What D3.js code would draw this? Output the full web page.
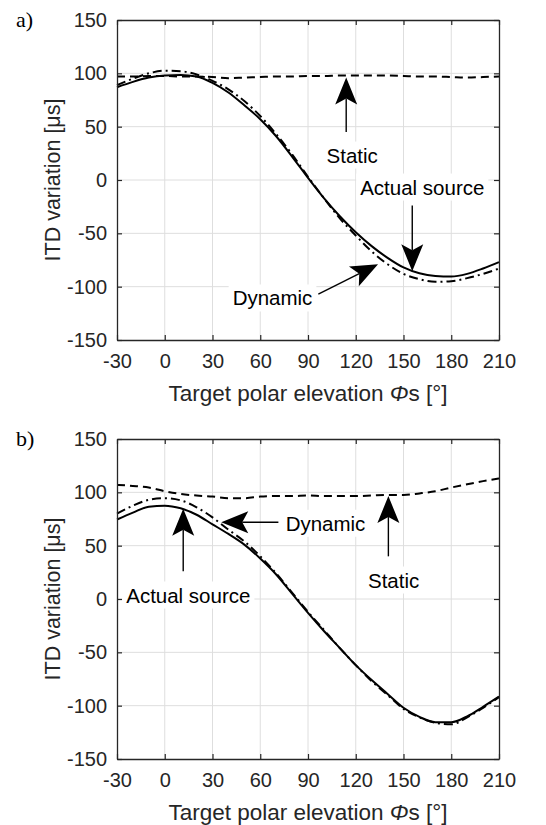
<!DOCTYPE html>
<html>
<head>
<meta charset="utf-8">
<script src="https://cdn.jsdelivr.net/npm/d3@7"></script>
<style>
  body { margin: 0; background: #fff; }
  svg text { font-family: "Liberation Sans", Arial, sans-serif; }
</style>
</head>
<body>
<svg width="546" height="825"></svg>
<script>
const svg = d3.select("svg");

// ===== DATA =====
const elevation = [-30, -20, -10, 0, 10, 20, 30, 40, 50, 60, 70, 80, 90,
                   100, 110, 120, 130, 140, 150, 160, 170, 180, 190, 200, 210];

// panel a)
const actualA  = [87, 92, 96, 98, 98.5, 97, 91, 82, 70, 57, 41, 22, 2,
                  -17, -34, -49, -62, -73, -82, -87.5, -90, -90.5, -88, -83, -77];
const dynamicA = [89, 95, 100, 102.5, 102, 99, 93, 85, 74, 60, 43, 24, 3,
                  -17, -36, -52, -67, -79, -88, -93, -95.5, -95, -92, -88, -83];
const staticA  = [97, 97, 97.5, 97.5, 97, 97, 96.5, 95.5, 96, 96.5, 97, 97, 97.5,
                  97.5, 98, 98, 98, 98, 97.5, 97, 97, 96.5, 96, 96.5, 97];

// panel b)
const actualB  = [74.5, 81, 86.5, 87.5, 85, 79, 70, 61, 51, 38, 23, 5, -13,
                  -30, -46, -62, -76, -89, -102, -110.5, -115.5, -115.5, -110, -101, -91.5];
const dynamicB = [80, 87.5, 93, 94.5, 92.5, 86, 76.5, 65, 54, 40, 24, 6, -12,
                  -29, -46, -62, -77, -90, -103, -111, -116, -117.5, -111, -102, -92];
const staticB  = [107, 106, 104.5, 101, 98.5, 97, 96, 94.5, 94.5, 96, 96.5, 96.5, 97,
                  96.5, 96.5, 96.5, 97, 97.5, 97.5, 99, 101, 104.5, 107.5, 110.5, 113];

const xTicks = [-30, 0, 30, 60, 90, 120, 150, 180, 210];
const yTicks = [-150, -100, -50, 0, 50, 100, 150];

// annotations in data coordinates: text centre, arrow tail, arrow tip
const notesA = [
  { label: "Static",        text: [117.8, 23.4],  from: [114, 45],     to: [114, 96] },
  { label: "Actual source", text: [161.8, -6.6],  from: [155.5, -24],  to: [155.5, -85.5] },
  { label: "Dynamic",       text: [67.7, -110.6], from: [96.5, -107],  to: [134, -79] }
];
const notesB = [
  { label: "Dynamic",       text: [101, 71],      from: [71.4, 72],    to: [35.5, 72] },
  { label: "Static",        text: [143.8, 17.8],  from: [140.5, 40],   to: [140.5, 96.5] },
  { label: "Actual source", text: [14.8, 3.75],   from: [11.6, 26],    to: [11.6, 84.5] }
];

const left = 117, right = 499, plotH = 320;

function drawPanel(top, tag, actual, dynamic, stat, notes) {
  const x = d3.scaleLinear().domain([-30, 210]).range([left, right]);
  const y = d3.scaleLinear().domain([-150, 150]).range([top + plotH, top]);
  const g = svg.append("g");

  // grid
  g.selectAll("line.vg").data(xTicks.slice(1, -1)).enter().append("line")
    .attr("x1", d => x(d)).attr("x2", d => x(d))
    .attr("y1", top).attr("y2", top + plotH)
    .attr("stroke", "#dedede").attr("stroke-width", 1);
  g.selectAll("line.hg").data(yTicks.slice(1, -1)).enter().append("line")
    .attr("y1", d => y(d)).attr("y2", d => y(d))
    .attr("x1", left).attr("x2", right)
    .attr("stroke", "#dedede").attr("stroke-width", 1);

  // curves
  const line = d3.line().x((d, i) => x(elevation[i])).y(d => y(d)).curve(d3.curveMonotoneX);
  g.append("path").attr("d", line(stat)).attr("fill", "none")
    .attr("stroke", "#000").attr("stroke-width", 2).attr("stroke-dasharray", "8,5");
  g.append("path").attr("d", line(dynamic)).attr("fill", "none")
    .attr("stroke", "#000").attr("stroke-width", 2).attr("stroke-dasharray", "9,4,2,4");
  g.append("path").attr("d", line(actual)).attr("fill", "none")
    .attr("stroke", "#000").attr("stroke-width", 2);

  // axes (box with inward ticks on all sides)
  const tk = -5;
  const fmt = d => String(d);
  const axB = d3.axisBottom(x).tickValues(xTicks).tickFormat(fmt).tickSizeInner(tk).tickSizeOuter(0).tickPadding(10);
  const axT = d3.axisTop(x).tickValues(xTicks).tickSizeInner(tk).tickSizeOuter(0).tickFormat("");
  const axL = d3.axisLeft(y).tickValues(yTicks).tickFormat(fmt).tickSizeInner(tk).tickSizeOuter(0).tickPadding(10);
  const axR = d3.axisRight(y).tickValues(yTicks).tickSizeInner(tk).tickSizeOuter(0).tickFormat("");
  const ab = g.append("g").attr("transform", `translate(0,${top + plotH})`).call(axB);
  const at = g.append("g").attr("transform", `translate(0,${top})`).call(axT);
  const al = g.append("g").attr("transform", `translate(${left},0)`).call(axL);
  const ar = g.append("g").attr("transform", `translate(${right},0)`).call(axR);
  [ab, at, al, ar].forEach(a => {
    a.select(".domain").attr("stroke", "#262626").attr("stroke-width", 1.3);
    a.selectAll(".tick line").attr("stroke", "#262626").attr("stroke-width", 1.2);
    a.selectAll(".tick text").attr("fill", "#262626").style("font-size", "20px")
      .style("font-family", "'Liberation Sans', Arial, sans-serif");
  });
  ab.selectAll(".tick text").attr("dy", "0.9em");

  // axis labels
  const xl = g.append("text").attr("x", (left + right) / 2).attr("y", top + plotH + 61)
    .attr("text-anchor", "middle").attr("fill", "#262626").style("font-size", "22.5px");
  xl.append("tspan").text("Target polar elevation ");
  xl.append("tspan").style("font-style", "italic").text("Φ");
  xl.append("tspan").text("s [°]");
  g.append("text")
    .attr("transform", `translate(60,${top + plotH / 2}) rotate(-90)`)
    .attr("text-anchor", "middle").attr("fill", "#262626").style("font-size", "21.5px")
    .text("ITD variation [μs]");

  // panel tag
  g.append("text").attr("x", 16).attr("y", top + 7)
    .style("font-family", "'Liberation Serif', 'DejaVu Serif', serif").style("font-size", "22px")
    .text(tag);

  // annotations
  notes.forEach(n => {
    const t = g.append("text").attr("x", x(n.text[0])).attr("y", y(n.text[1]))
      .attr("text-anchor", "middle").attr("dominant-baseline", "central")
      .style("font-size", "20.5px").text(n.label);
    const bb = t.node().getBBox();
    g.insert("rect", function() { return t.node(); })
      .attr("x", bb.x - 4).attr("y", bb.y - 2).attr("width", bb.width + 8).attr("height", bb.height + 4)
      .attr("fill", "#fff");
    const x0 = x(n.from[0]), y0 = y(n.from[1]), x1 = x(n.to[0]), y1 = y(n.to[1]);
    const ang = Math.atan2(y1 - y0, x1 - x0);
    const L = 27, W = 11, N = 21;
    const ux = Math.cos(ang), uy = Math.sin(ang), px = -uy, py = ux;
    g.append("line").attr("x1", x0).attr("y1", y0)
      .attr("x2", x1 - ux * N).attr("y2", y1 - uy * N)
      .attr("stroke", "#000").attr("stroke-width", 1.4);
    const pts = [
      [x1, y1],
      [x1 - ux * L + px * W, y1 - uy * L + py * W],
      [x1 - ux * N, y1 - uy * N],
      [x1 - ux * L - px * W, y1 - uy * L - py * W]
    ];
    g.append("polygon").attr("points", pts.map(p => p.join(",")).join(" ")).attr("fill", "#000");
  });
}

drawPanel(20, "a)", actualA, dynamicA, staticA, notesA);
drawPanel(439, "b)", actualB, dynamicB, staticB, notesB);
</script>
</body>
</html>
